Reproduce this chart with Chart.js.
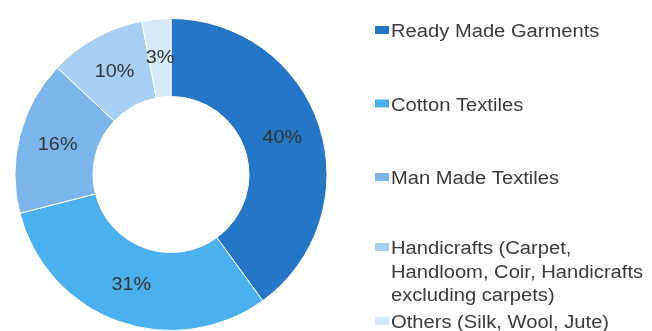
<!DOCTYPE html>
<html>
<head>
<meta charset="utf-8">
<script src="https://cdn.jsdelivr.net/npm/chart.js@4"></script>
<style>
  html, body { margin: 0; padding: 0; background: #fff; }
  #wrap { width: 652px; height: 331px; position: relative; }
</style>
</head>
<body>
<div id="wrap"><canvas id="exportChart"></canvas></div>
<script>
// shares of textile exports (%)
const categories = [
    'Ready Made Garments',
    'Cotton Textiles',
    'Man Made Textiles',
    'Handicrafts (Carpet, Handloom, Coir, Handicrafts excluding carpets)',
    'Others (Silk, Wool, Jute)'
];
const legendLines = [
    ['Ready Made Garments'],
    ['Cotton Textiles'],
    ['Man Made Textiles'],
    ['Handicrafts (Carpet,', 'Handloom, Coir, Handicrafts', 'excluding carpets)'],
    ['Others (Silk, Wool, Jute)']
];
const shares = [40, 31, 16, 10, 3];
const colors = ['#2577c5', '#4cb0ee', '#7cb5ec', '#a7cff4', '#d6e9f9'];

const FONT = 'Liberation Sans, Arial, sans-serif';

// percent labels on each slice
const sliceLabels = {
    id: 'sliceLabels',
    afterDatasetsDraw(chart) {
        const ctx = chart.ctx;
        const meta = chart.getDatasetMeta(0);
        ctx.save();
        ctx.font = '18px ' + FONT;
        ctx.fillStyle = '#333333';
        ctx.textAlign = 'center';
        ctx.textBaseline = 'middle';
        meta.data.forEach((arc, i) => {
            const p = arc.tooltipPosition();
            ctx.save();
            ctx.translate(p.x, p.y);
            ctx.scale(1.1, 1);
            ctx.fillText(shares[i] + '%', 0, 0);
            ctx.restore();
        });
        ctx.restore();
    }
};

// legend on the right, one block per category
const sideLegend = {
    id: 'sideLegend',
    afterDraw(chart) {
        const ctx = chart.ctx;
        const baselines = [37, 110.5, 184, 254, 328];
        ctx.save();
        ctx.font = '18px ' + FONT;
        ctx.textBaseline = 'alphabetic';
        legendLines.forEach((lines, i) => {
            const y = baselines[i];
            ctx.fillStyle = colors[i];
            ctx.fillRect(375, y - 11, 14, 8);
            ctx.fillStyle = '#3a3a3a';
            lines.forEach((t, j) => {
                ctx.save();
                ctx.translate(391, y + j * 23.5);
                ctx.scale(1.12, 1);
                ctx.fillText(t, 0, 0);
                ctx.restore();
            });
        });
        ctx.restore();
    }
};

new Chart(document.getElementById('exportChart'), {
    type: 'doughnut',
    data: {
        labels: categories,
        datasets: [{
            data: shares,
            backgroundColor: colors,
            borderColor: '#ffffff',
            borderWidth: 1
        }]
    },
    options: {
        responsive: true,
        maintainAspectRatio: false,
        animation: false,
        cutout: '50%',
        layout: { padding: { left: 14, right: 324, top: 18, bottom: 0 } },
        plugins: {
            legend: { display: false },
            tooltip: { enabled: false }
        }
    },
    plugins: [sliceLabels, sideLegend]
});
</script>
</body>
</html>
